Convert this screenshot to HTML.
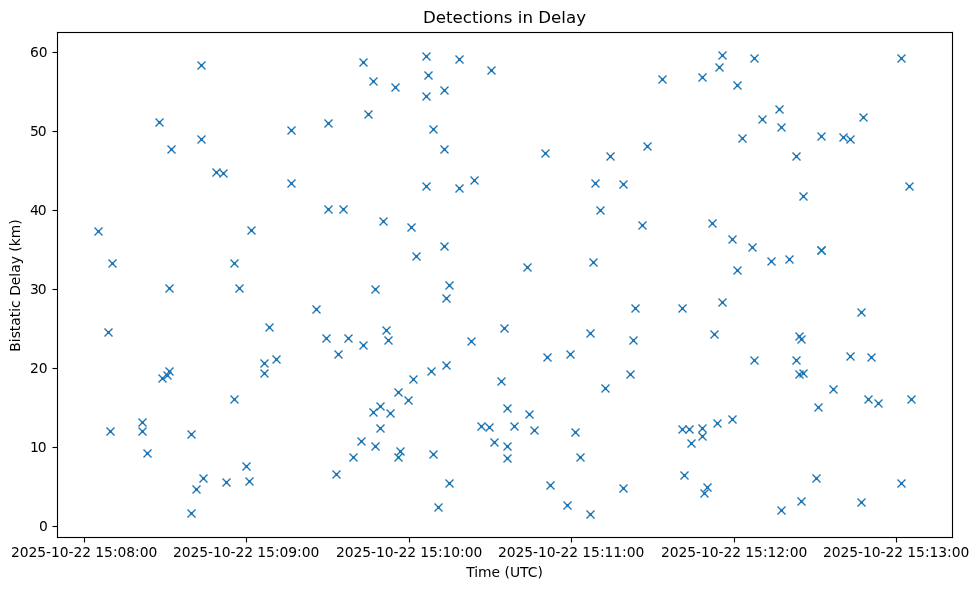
<!DOCTYPE html>
<html lang="en">
<head>
<meta charset="utf-8">
<title>Detections in Delay</title>
<style>
html,body{margin:0;padding:0;background:#fff;}
body{width:979px;height:590px;overflow:hidden;}
svg{display:block;will-change:transform;}
text{font-family:"DejaVu Sans","Liberation Sans",sans-serif;fill:#000;}
.t{font-size:13.8889px;}
.h{font-size:16.6667px;}
</style>
</head>
<body>
<svg width="979" height="590" viewBox="0 0 979 590">
<rect x="0" y="0" width="979" height="590" fill="#ffffff"/>
<g id="detections" fill="none" stroke="#1f77b4" stroke-linecap="butt">
<g stroke-width="1.3889">
<path d="M197.5 61.5l8 8m0 -8l-8 8"/>
<path d="M155.5 118.5l8 8m0 -8l-8 8"/>
<path d="M197.5 135.5l8 8m0 -8l-8 8"/>
<path d="M287.5 126.5l8 8m0 -8l-8 8"/>
<path d="M324.5 119.5l8 8m0 -8l-8 8"/>
<path d="M359.5 58.5l8 8m0 -8l-8 8"/>
<path d="M369.5 77.5l8 8m0 -8l-8 8"/>
<path d="M364.5 110.5l8 8m0 -8l-8 8"/>
<path d="M391.5 83.5l8 8m0 -8l-8 8"/>
<path d="M422.5 52.5l8 8m0 -8l-8 8"/>
<path d="M424.5 71.5l8 8m0 -8l-8 8"/>
<path d="M422.5 92.5l8 8m0 -8l-8 8"/>
<path d="M440.5 86.5l8 8m0 -8l-8 8"/>
<path d="M429.5 125.5l8 8m0 -8l-8 8"/>
<path d="M455.5 55.5l8 8m0 -8l-8 8"/>
<path d="M487.5 66.5l8 8m0 -8l-8 8"/>
<path d="M658.5 75.5l8 8m0 -8l-8 8"/>
<path d="M698.5 73.5l8 8m0 -8l-8 8"/>
<path d="M718.5 51.5l8 8m0 -8l-8 8"/>
<path d="M715.5 63.5l8 8m0 -8l-8 8"/>
<path d="M750.5 54.5l8 8m0 -8l-8 8"/>
<path d="M733.5 81.5l8 8m0 -8l-8 8"/>
<path d="M775.5 105.5l8 8m0 -8l-8 8"/>
<path d="M758.5 115.5l8 8m0 -8l-8 8"/>
<path d="M777.5 123.5l8 8m0 -8l-8 8"/>
<path d="M738.5 134.5l8 8m0 -8l-8 8"/>
<path d="M817.5 132.5l8 8m0 -8l-8 8"/>
<path d="M839.5 133.5l8 8m0 -8l-8 8"/>
<path d="M846.5 135.5l8 8m0 -8l-8 8"/>
<path d="M897.5 54.5l8 8m0 -8l-8 8"/>
<path d="M859.5 113.5l8 8m0 -8l-8 8"/>
<path d="M643.5 142.5l8 8m0 -8l-8 8"/>
<path d="M167.5 145.5l8 8m0 -8l-8 8"/>
<path d="M212.5 168.5l8 8m0 -8l-8 8"/>
<path d="M219.5 169.5l8 8m0 -8l-8 8"/>
<path d="M94.5 227.5l8 8m0 -8l-8 8"/>
<path d="M108.5 259.5l8 8m0 -8l-8 8"/>
<path d="M230.5 259.5l8 8m0 -8l-8 8"/>
<path d="M247.5 226.5l8 8m0 -8l-8 8"/>
<path d="M440.5 145.5l8 8m0 -8l-8 8"/>
<path d="M287.5 179.5l8 8m0 -8l-8 8"/>
<path d="M422.5 182.5l8 8m0 -8l-8 8"/>
<path d="M324.5 205.5l8 8m0 -8l-8 8"/>
<path d="M339.5 205.5l8 8m0 -8l-8 8"/>
<path d="M379.5 217.5l8 8m0 -8l-8 8"/>
<path d="M407.5 223.5l8 8m0 -8l-8 8"/>
<path d="M440.5 242.5l8 8m0 -8l-8 8"/>
<path d="M412.5 252.5l8 8m0 -8l-8 8"/>
<path d="M541.5 149.5l8 8m0 -8l-8 8"/>
<path d="M606.5 152.5l8 8m0 -8l-8 8"/>
<path d="M470.5 176.5l8 8m0 -8l-8 8"/>
<path d="M455.5 184.5l8 8m0 -8l-8 8"/>
<path d="M591.5 179.5l8 8m0 -8l-8 8"/>
<path d="M619.5 180.5l8 8m0 -8l-8 8"/>
<path d="M596.5 206.5l8 8m0 -8l-8 8"/>
<path d="M638.5 221.5l8 8m0 -8l-8 8"/>
<path d="M589.5 258.5l8 8m0 -8l-8 8"/>
<path d="M792.5 152.5l8 8m0 -8l-8 8"/>
<path d="M799.5 192.5l8 8m0 -8l-8 8"/>
<path d="M708.5 219.5l8 8m0 -8l-8 8"/>
<path d="M728.5 235.5l8 8m0 -8l-8 8"/>
<path d="M748.5 243.5l8 8m0 -8l-8 8"/>
<path d="M767.5 257.5l8 8m0 -8l-8 8"/>
<path d="M785.5 255.5l8 8m0 -8l-8 8"/>
<path d="M817.5 246.5l8 8m0 -8l-8 8"/>
<path d="M817.5 246.5l8 8m0 -8l-8 8"/>
<path d="M905.5 182.5l8 8m0 -8l-8 8"/>
<path d="M523.5 263.5l8 8m0 -8l-8 8"/>
<path d="M165.5 284.5l8 8m0 -8l-8 8"/>
<path d="M235.5 284.5l8 8m0 -8l-8 8"/>
<path d="M104.5 328.5l8 8m0 -8l-8 8"/>
<path d="M165.5 367.5l8 8m0 -8l-8 8"/>
<path d="M163.5 371.5l8 8m0 -8l-8 8"/>
<path d="M158.5 374.5l8 8m0 -8l-8 8"/>
<path d="M371.5 285.5l8 8m0 -8l-8 8"/>
<path d="M445.5 281.5l8 8m0 -8l-8 8"/>
<path d="M442.5 294.5l8 8m0 -8l-8 8"/>
<path d="M312.5 305.5l8 8m0 -8l-8 8"/>
<path d="M265.5 323.5l8 8m0 -8l-8 8"/>
<path d="M382.5 326.5l8 8m0 -8l-8 8"/>
<path d="M384.5 336.5l8 8m0 -8l-8 8"/>
<path d="M322.5 334.5l8 8m0 -8l-8 8"/>
<path d="M344.5 334.5l8 8m0 -8l-8 8"/>
<path d="M359.5 341.5l8 8m0 -8l-8 8"/>
<path d="M334.5 350.5l8 8m0 -8l-8 8"/>
<path d="M272.5 355.5l8 8m0 -8l-8 8"/>
<path d="M260.5 359.5l8 8m0 -8l-8 8"/>
<path d="M260.5 369.5l8 8m0 -8l-8 8"/>
<path d="M442.5 361.5l8 8m0 -8l-8 8"/>
<path d="M427.5 367.5l8 8m0 -8l-8 8"/>
<path d="M409.5 375.5l8 8m0 -8l-8 8"/>
<path d="M631.5 304.5l8 8m0 -8l-8 8"/>
<path d="M500.5 324.5l8 8m0 -8l-8 8"/>
<path d="M586.5 329.5l8 8m0 -8l-8 8"/>
<path d="M467.5 337.5l8 8m0 -8l-8 8"/>
<path d="M629.5 336.5l8 8m0 -8l-8 8"/>
<path d="M543.5 353.5l8 8m0 -8l-8 8"/>
<path d="M566.5 350.5l8 8m0 -8l-8 8"/>
<path d="M626.5 370.5l8 8m0 -8l-8 8"/>
<path d="M497.5 377.5l8 8m0 -8l-8 8"/>
<path d="M733.5 266.5l8 8m0 -8l-8 8"/>
<path d="M718.5 298.5l8 8m0 -8l-8 8"/>
<path d="M678.5 304.5l8 8m0 -8l-8 8"/>
<path d="M710.5 330.5l8 8m0 -8l-8 8"/>
<path d="M795.5 332.5l8 8m0 -8l-8 8"/>
<path d="M797.5 335.5l8 8m0 -8l-8 8"/>
<path d="M750.5 356.5l8 8m0 -8l-8 8"/>
<path d="M792.5 356.5l8 8m0 -8l-8 8"/>
<path d="M795.5 370.5l8 8m0 -8l-8 8"/>
<path d="M799.5 369.5l8 8m0 -8l-8 8"/>
<path d="M846.5 352.5l8 8m0 -8l-8 8"/>
<path d="M857.5 308.5l8 8m0 -8l-8 8"/>
<path d="M867.5 353.5l8 8m0 -8l-8 8"/>
<path d="M230.5 395.5l8 8m0 -8l-8 8"/>
<path d="M138.5 418.5l8 8m0 -8l-8 8"/>
<path d="M138.5 427.5l8 8m0 -8l-8 8"/>
<path d="M106.5 427.5l8 8m0 -8l-8 8"/>
<path d="M187.5 430.5l8 8m0 -8l-8 8"/>
<path d="M143.5 449.5l8 8m0 -8l-8 8"/>
<path d="M242.5 462.5l8 8m0 -8l-8 8"/>
<path d="M199.5 474.5l8 8m0 -8l-8 8"/>
<path d="M222.5 478.5l8 8m0 -8l-8 8"/>
<path d="M245.5 477.5l8 8m0 -8l-8 8"/>
<path d="M192.5 485.5l8 8m0 -8l-8 8"/>
<path d="M394.5 388.5l8 8m0 -8l-8 8"/>
<path d="M404.5 396.5l8 8m0 -8l-8 8"/>
<path d="M376.5 402.5l8 8m0 -8l-8 8"/>
<path d="M369.5 408.5l8 8m0 -8l-8 8"/>
<path d="M386.5 409.5l8 8m0 -8l-8 8"/>
<path d="M376.5 424.5l8 8m0 -8l-8 8"/>
<path d="M357.5 437.5l8 8m0 -8l-8 8"/>
<path d="M371.5 442.5l8 8m0 -8l-8 8"/>
<path d="M396.5 447.5l8 8m0 -8l-8 8"/>
<path d="M394.5 453.5l8 8m0 -8l-8 8"/>
<path d="M349.5 453.5l8 8m0 -8l-8 8"/>
<path d="M429.5 450.5l8 8m0 -8l-8 8"/>
<path d="M332.5 470.5l8 8m0 -8l-8 8"/>
<path d="M445.5 479.5l8 8m0 -8l-8 8"/>
<path d="M601.5 384.5l8 8m0 -8l-8 8"/>
<path d="M503.5 404.5l8 8m0 -8l-8 8"/>
<path d="M525.5 410.5l8 8m0 -8l-8 8"/>
<path d="M477.5 422.5l8 8m0 -8l-8 8"/>
<path d="M485.5 423.5l8 8m0 -8l-8 8"/>
<path d="M510.5 422.5l8 8m0 -8l-8 8"/>
<path d="M530.5 426.5l8 8m0 -8l-8 8"/>
<path d="M571.5 428.5l8 8m0 -8l-8 8"/>
<path d="M490.5 438.5l8 8m0 -8l-8 8"/>
<path d="M503.5 442.5l8 8m0 -8l-8 8"/>
<path d="M503.5 454.5l8 8m0 -8l-8 8"/>
<path d="M576.5 453.5l8 8m0 -8l-8 8"/>
<path d="M546.5 481.5l8 8m0 -8l-8 8"/>
<path d="M619.5 484.5l8 8m0 -8l-8 8"/>
<path d="M829.5 385.5l8 8m0 -8l-8 8"/>
<path d="M814.5 403.5l8 8m0 -8l-8 8"/>
<path d="M728.5 415.5l8 8m0 -8l-8 8"/>
<path d="M713.5 419.5l8 8m0 -8l-8 8"/>
<path d="M678.5 425.5l8 8m0 -8l-8 8"/>
<path d="M685.5 425.5l8 8m0 -8l-8 8"/>
<path d="M698.5 424.5l8 8m0 -8l-8 8"/>
<path d="M698.5 432.5l8 8m0 -8l-8 8"/>
<path d="M687.5 439.5l8 8m0 -8l-8 8"/>
<path d="M680.5 471.5l8 8m0 -8l-8 8"/>
<path d="M703.5 483.5l8 8m0 -8l-8 8"/>
<path d="M700.5 489.5l8 8m0 -8l-8 8"/>
<path d="M812.5 474.5l8 8m0 -8l-8 8"/>
<path d="M797.5 497.5l8 8m0 -8l-8 8"/>
<path d="M864.5 395.5l8 8m0 -8l-8 8"/>
<path d="M874.5 399.5l8 8m0 -8l-8 8"/>
<path d="M907.5 395.5l8 8m0 -8l-8 8"/>
<path d="M897.5 479.5l8 8m0 -8l-8 8"/>
<path d="M857.5 498.5l8 8m0 -8l-8 8"/>
<path d="M187.5 509.5l8 8m0 -8l-8 8"/>
<path d="M434.5 503.5l8 8m0 -8l-8 8"/>
<path d="M563.5 501.5l8 8m0 -8l-8 8"/>
<path d="M586.5 510.5l8 8m0 -8l-8 8"/>
<path d="M777.5 506.5l8 8m0 -8l-8 8"/>
</g>
<path d="M200 65.5h3M201.5 64v3M158 122.5h3M159.5 121v3M200 139.5h3M201.5 138v3M290 130.5h3M291.5 129v3M327 123.5h3M328.5 122v3M362 62.5h3M363.5 61v3M372 81.5h3M373.5 80v3M367 114.5h3M368.5 113v3M394 87.5h3M395.5 86v3M425 56.5h3M426.5 55v3M427 75.5h3M428.5 74v3M425 96.5h3M426.5 95v3M443 90.5h3M444.5 89v3M432 129.5h3M433.5 128v3M458 59.5h3M459.5 58v3M490 70.5h3M491.5 69v3M661 79.5h3M662.5 78v3M701 77.5h3M702.5 76v3M721 55.5h3M722.5 54v3M718 67.5h3M719.5 66v3M753 58.5h3M754.5 57v3M736 85.5h3M737.5 84v3M778 109.5h3M779.5 108v3M761 119.5h3M762.5 118v3M780 127.5h3M781.5 126v3M741 138.5h3M742.5 137v3M820 136.5h3M821.5 135v3M842 137.5h3M843.5 136v3M849 139.5h3M850.5 138v3M900 58.5h3M901.5 57v3M862 117.5h3M863.5 116v3M646 146.5h3M647.5 145v3M170 149.5h3M171.5 148v3M215 172.5h3M216.5 171v3M222 173.5h3M223.5 172v3M97 231.5h3M98.5 230v3M111 263.5h3M112.5 262v3M233 263.5h3M234.5 262v3M250 230.5h3M251.5 229v3M443 149.5h3M444.5 148v3M290 183.5h3M291.5 182v3M425 186.5h3M426.5 185v3M327 209.5h3M328.5 208v3M342 209.5h3M343.5 208v3M382 221.5h3M383.5 220v3M410 227.5h3M411.5 226v3M443 246.5h3M444.5 245v3M415 256.5h3M416.5 255v3M544 153.5h3M545.5 152v3M609 156.5h3M610.5 155v3M473 180.5h3M474.5 179v3M458 188.5h3M459.5 187v3M594 183.5h3M595.5 182v3M622 184.5h3M623.5 183v3M599 210.5h3M600.5 209v3M641 225.5h3M642.5 224v3M592 262.5h3M593.5 261v3M795 156.5h3M796.5 155v3M802 196.5h3M803.5 195v3M711 223.5h3M712.5 222v3M731 239.5h3M732.5 238v3M751 247.5h3M752.5 246v3M770 261.5h3M771.5 260v3M788 259.5h3M789.5 258v3M820 250.5h3M821.5 249v3M820 250.5h3M821.5 249v3M908 186.5h3M909.5 185v3M526 267.5h3M527.5 266v3M168 288.5h3M169.5 287v3M238 288.5h3M239.5 287v3M107 332.5h3M108.5 331v3M168 371.5h3M169.5 370v3M166 375.5h3M167.5 374v3M161 378.5h3M162.5 377v3M374 289.5h3M375.5 288v3M448 285.5h3M449.5 284v3M445 298.5h3M446.5 297v3M315 309.5h3M316.5 308v3M268 327.5h3M269.5 326v3M385 330.5h3M386.5 329v3M387 340.5h3M388.5 339v3M325 338.5h3M326.5 337v3M347 338.5h3M348.5 337v3M362 345.5h3M363.5 344v3M337 354.5h3M338.5 353v3M275 359.5h3M276.5 358v3M263 363.5h3M264.5 362v3M263 373.5h3M264.5 372v3M445 365.5h3M446.5 364v3M430 371.5h3M431.5 370v3M412 379.5h3M413.5 378v3M634 308.5h3M635.5 307v3M503 328.5h3M504.5 327v3M589 333.5h3M590.5 332v3M470 341.5h3M471.5 340v3M632 340.5h3M633.5 339v3M546 357.5h3M547.5 356v3M569 354.5h3M570.5 353v3M629 374.5h3M630.5 373v3M500 381.5h3M501.5 380v3M736 270.5h3M737.5 269v3M721 302.5h3M722.5 301v3M681 308.5h3M682.5 307v3M713 334.5h3M714.5 333v3M798 336.5h3M799.5 335v3M800 339.5h3M801.5 338v3M753 360.5h3M754.5 359v3M795 360.5h3M796.5 359v3M798 374.5h3M799.5 373v3M802 373.5h3M803.5 372v3M849 356.5h3M850.5 355v3M860 312.5h3M861.5 311v3M870 357.5h3M871.5 356v3M233 399.5h3M234.5 398v3M141 422.5h3M142.5 421v3M141 431.5h3M142.5 430v3M109 431.5h3M110.5 430v3M190 434.5h3M191.5 433v3M146 453.5h3M147.5 452v3M245 466.5h3M246.5 465v3M202 478.5h3M203.5 477v3M225 482.5h3M226.5 481v3M248 481.5h3M249.5 480v3M195 489.5h3M196.5 488v3M397 392.5h3M398.5 391v3M407 400.5h3M408.5 399v3M379 406.5h3M380.5 405v3M372 412.5h3M373.5 411v3M389 413.5h3M390.5 412v3M379 428.5h3M380.5 427v3M360 441.5h3M361.5 440v3M374 446.5h3M375.5 445v3M399 451.5h3M400.5 450v3M397 457.5h3M398.5 456v3M352 457.5h3M353.5 456v3M432 454.5h3M433.5 453v3M335 474.5h3M336.5 473v3M448 483.5h3M449.5 482v3M604 388.5h3M605.5 387v3M506 408.5h3M507.5 407v3M528 414.5h3M529.5 413v3M480 426.5h3M481.5 425v3M488 427.5h3M489.5 426v3M513 426.5h3M514.5 425v3M533 430.5h3M534.5 429v3M574 432.5h3M575.5 431v3M493 442.5h3M494.5 441v3M506 446.5h3M507.5 445v3M506 458.5h3M507.5 457v3M579 457.5h3M580.5 456v3M549 485.5h3M550.5 484v3M622 488.5h3M623.5 487v3M832 389.5h3M833.5 388v3M817 407.5h3M818.5 406v3M731 419.5h3M732.5 418v3M716 423.5h3M717.5 422v3M681 429.5h3M682.5 428v3M688 429.5h3M689.5 428v3M701 428.5h3M702.5 427v3M701 436.5h3M702.5 435v3M690 443.5h3M691.5 442v3M683 475.5h3M684.5 474v3M706 487.5h3M707.5 486v3M703 493.5h3M704.5 492v3M815 478.5h3M816.5 477v3M800 501.5h3M801.5 500v3M867 399.5h3M868.5 398v3M877 403.5h3M878.5 402v3M910 399.5h3M911.5 398v3M900 483.5h3M901.5 482v3M860 502.5h3M861.5 501v3M190 513.5h3M191.5 512v3M437 507.5h3M438.5 506v3M566 505.5h3M567.5 504v3M589 514.5h3M590.5 513v3M780 510.5h3M781.5 509v3" stroke-width="1"/>
</g>
<g id="ticks" fill="#000">
<rect x="83" y="537" width="1" height="1" fill-opacity="0.028"/><rect x="83" y="538" width="1" height="4" fill-opacity="0.056"/><rect x="83" y="542" width="1" height="1" fill-opacity="0.028"/><rect x="84" y="537" width="1" height="1" fill-opacity="0.500"/><rect x="84" y="538" width="1" height="4"/><rect x="84" y="542" width="1" height="1" fill-opacity="0.500"/><rect x="85" y="537" width="1" height="1" fill-opacity="0.028"/><rect x="85" y="538" width="1" height="4" fill-opacity="0.056"/><rect x="85" y="542" width="1" height="1" fill-opacity="0.028"/>
<rect x="245" y="537" width="1" height="1" fill-opacity="0.028"/><rect x="245" y="538" width="1" height="4" fill-opacity="0.056"/><rect x="245" y="542" width="1" height="1" fill-opacity="0.028"/><rect x="246" y="537" width="1" height="1" fill-opacity="0.500"/><rect x="246" y="538" width="1" height="4"/><rect x="246" y="542" width="1" height="1" fill-opacity="0.500"/><rect x="247" y="537" width="1" height="1" fill-opacity="0.028"/><rect x="247" y="538" width="1" height="4" fill-opacity="0.056"/><rect x="247" y="542" width="1" height="1" fill-opacity="0.028"/>
<rect x="408" y="537" width="1" height="1" fill-opacity="0.028"/><rect x="408" y="538" width="1" height="4" fill-opacity="0.056"/><rect x="408" y="542" width="1" height="1" fill-opacity="0.028"/><rect x="409" y="537" width="1" height="1" fill-opacity="0.500"/><rect x="409" y="538" width="1" height="4"/><rect x="409" y="542" width="1" height="1" fill-opacity="0.500"/><rect x="410" y="537" width="1" height="1" fill-opacity="0.028"/><rect x="410" y="538" width="1" height="4" fill-opacity="0.056"/><rect x="410" y="542" width="1" height="1" fill-opacity="0.028"/>
<rect x="570" y="537" width="1" height="1" fill-opacity="0.028"/><rect x="570" y="538" width="1" height="4" fill-opacity="0.056"/><rect x="570" y="542" width="1" height="1" fill-opacity="0.028"/><rect x="571" y="537" width="1" height="1" fill-opacity="0.500"/><rect x="571" y="538" width="1" height="4"/><rect x="571" y="542" width="1" height="1" fill-opacity="0.500"/><rect x="572" y="537" width="1" height="1" fill-opacity="0.028"/><rect x="572" y="538" width="1" height="4" fill-opacity="0.056"/><rect x="572" y="542" width="1" height="1" fill-opacity="0.028"/>
<rect x="733" y="537" width="1" height="1" fill-opacity="0.028"/><rect x="733" y="538" width="1" height="4" fill-opacity="0.056"/><rect x="733" y="542" width="1" height="1" fill-opacity="0.028"/><rect x="734" y="537" width="1" height="1" fill-opacity="0.500"/><rect x="734" y="538" width="1" height="4"/><rect x="734" y="542" width="1" height="1" fill-opacity="0.500"/><rect x="735" y="537" width="1" height="1" fill-opacity="0.028"/><rect x="735" y="538" width="1" height="4" fill-opacity="0.056"/><rect x="735" y="542" width="1" height="1" fill-opacity="0.028"/>
<rect x="895" y="537" width="1" height="1" fill-opacity="0.028"/><rect x="895" y="538" width="1" height="4" fill-opacity="0.056"/><rect x="895" y="542" width="1" height="1" fill-opacity="0.028"/><rect x="896" y="537" width="1" height="1" fill-opacity="0.500"/><rect x="896" y="538" width="1" height="4"/><rect x="896" y="542" width="1" height="1" fill-opacity="0.500"/><rect x="897" y="537" width="1" height="1" fill-opacity="0.028"/><rect x="897" y="538" width="1" height="4" fill-opacity="0.056"/><rect x="897" y="542" width="1" height="1" fill-opacity="0.028"/>
<rect x="52" y="525" width="1" height="1" fill-opacity="0.028"/><rect x="52" y="526" width="1" height="1" fill-opacity="0.500"/><rect x="52" y="527" width="1" height="1" fill-opacity="0.028"/><rect x="53" y="525" width="4" height="1" fill-opacity="0.056"/><rect x="53" y="526" width="4" height="1"/><rect x="53" y="527" width="4" height="1" fill-opacity="0.056"/><rect x="57" y="525" width="1" height="1" fill-opacity="0.028"/><rect x="57" y="526" width="1" height="1" fill-opacity="0.500"/><rect x="57" y="527" width="1" height="1" fill-opacity="0.028"/>
<rect x="52" y="446" width="1" height="1" fill-opacity="0.028"/><rect x="52" y="447" width="1" height="1" fill-opacity="0.500"/><rect x="52" y="448" width="1" height="1" fill-opacity="0.028"/><rect x="53" y="446" width="4" height="1" fill-opacity="0.056"/><rect x="53" y="447" width="4" height="1"/><rect x="53" y="448" width="4" height="1" fill-opacity="0.056"/><rect x="57" y="446" width="1" height="1" fill-opacity="0.028"/><rect x="57" y="447" width="1" height="1" fill-opacity="0.500"/><rect x="57" y="448" width="1" height="1" fill-opacity="0.028"/>
<rect x="52" y="367" width="1" height="1" fill-opacity="0.028"/><rect x="52" y="368" width="1" height="1" fill-opacity="0.500"/><rect x="52" y="369" width="1" height="1" fill-opacity="0.028"/><rect x="53" y="367" width="4" height="1" fill-opacity="0.056"/><rect x="53" y="368" width="4" height="1"/><rect x="53" y="369" width="4" height="1" fill-opacity="0.056"/><rect x="57" y="367" width="1" height="1" fill-opacity="0.028"/><rect x="57" y="368" width="1" height="1" fill-opacity="0.500"/><rect x="57" y="369" width="1" height="1" fill-opacity="0.028"/>
<rect x="52" y="288" width="1" height="1" fill-opacity="0.028"/><rect x="52" y="289" width="1" height="1" fill-opacity="0.500"/><rect x="52" y="290" width="1" height="1" fill-opacity="0.028"/><rect x="53" y="288" width="4" height="1" fill-opacity="0.056"/><rect x="53" y="289" width="4" height="1"/><rect x="53" y="290" width="4" height="1" fill-opacity="0.056"/><rect x="57" y="288" width="1" height="1" fill-opacity="0.028"/><rect x="57" y="289" width="1" height="1" fill-opacity="0.500"/><rect x="57" y="290" width="1" height="1" fill-opacity="0.028"/>
<rect x="52" y="209" width="1" height="1" fill-opacity="0.028"/><rect x="52" y="210" width="1" height="1" fill-opacity="0.500"/><rect x="52" y="211" width="1" height="1" fill-opacity="0.028"/><rect x="53" y="209" width="4" height="1" fill-opacity="0.056"/><rect x="53" y="210" width="4" height="1"/><rect x="53" y="211" width="4" height="1" fill-opacity="0.056"/><rect x="57" y="209" width="1" height="1" fill-opacity="0.028"/><rect x="57" y="210" width="1" height="1" fill-opacity="0.500"/><rect x="57" y="211" width="1" height="1" fill-opacity="0.028"/>
<rect x="52" y="130" width="1" height="1" fill-opacity="0.028"/><rect x="52" y="131" width="1" height="1" fill-opacity="0.500"/><rect x="52" y="132" width="1" height="1" fill-opacity="0.028"/><rect x="53" y="130" width="4" height="1" fill-opacity="0.056"/><rect x="53" y="131" width="4" height="1"/><rect x="53" y="132" width="4" height="1" fill-opacity="0.056"/><rect x="57" y="130" width="1" height="1" fill-opacity="0.028"/><rect x="57" y="131" width="1" height="1" fill-opacity="0.500"/><rect x="57" y="132" width="1" height="1" fill-opacity="0.028"/>
<rect x="52" y="51" width="1" height="1" fill-opacity="0.028"/><rect x="52" y="52" width="1" height="1" fill-opacity="0.500"/><rect x="52" y="53" width="1" height="1" fill-opacity="0.028"/><rect x="53" y="51" width="4" height="1" fill-opacity="0.056"/><rect x="53" y="52" width="4" height="1"/><rect x="53" y="53" width="4" height="1" fill-opacity="0.056"/><rect x="57" y="51" width="1" height="1" fill-opacity="0.028"/><rect x="57" y="52" width="1" height="1" fill-opacity="0.500"/><rect x="57" y="53" width="1" height="1" fill-opacity="0.028"/>
</g>
<g id="spines" fill="#000">
<rect x="56" y="32" width="1" height="506" fill-opacity="0.056"/><rect x="57" y="31" width="1" height="1" fill-opacity="0.056"/><rect x="57" y="32" width="1" height="506"/><rect x="57" y="538" width="1" height="1" fill-opacity="0.056"/><rect x="58" y="32" width="1" height="506" fill-opacity="0.056"/>
<rect x="951" y="32" width="1" height="506" fill-opacity="0.056"/><rect x="952" y="31" width="1" height="1" fill-opacity="0.056"/><rect x="952" y="32" width="1" height="506"/><rect x="952" y="538" width="1" height="1" fill-opacity="0.056"/><rect x="953" y="32" width="1" height="506" fill-opacity="0.056"/>
<rect x="56" y="537" width="1" height="1" fill-opacity="0.056"/><rect x="57" y="536" width="896" height="1" fill-opacity="0.056"/><rect x="57" y="537" width="896" height="1"/><rect x="57" y="538" width="896" height="1" fill-opacity="0.056"/><rect x="953" y="537" width="1" height="1" fill-opacity="0.056"/>
<rect x="56" y="32" width="1" height="1" fill-opacity="0.056"/><rect x="57" y="31" width="896" height="1" fill-opacity="0.056"/><rect x="57" y="32" width="896" height="1"/><rect x="57" y="33" width="896" height="1" fill-opacity="0.056"/><rect x="953" y="32" width="1" height="1" fill-opacity="0.056"/>
</g>
<g class="t" text-anchor="middle">
<text x="84.1" y="557" textLength="146.35" lengthAdjust="spacing">2025-10-22 15:08:00</text>
<text x="246.1" y="557" textLength="146.35" lengthAdjust="spacing">2025-10-22 15:09:00</text>
<text x="409.1" y="557" textLength="146.35" lengthAdjust="spacing">2025-10-22 15:10:00</text>
<text x="571.1" y="557" textLength="146.35" lengthAdjust="spacing">2025-10-22 15:11:00</text>
<text x="734.1" y="557" textLength="146.35" lengthAdjust="spacing">2025-10-22 15:12:00</text>
<text x="896.1" y="557" textLength="146.35" lengthAdjust="spacing">2025-10-22 15:13:00</text>
</g>
<g class="t" id="yticks">
<text x="38.97" y="531">0</text>
<text x="29.89 37.72" y="452">10</text>
<text x="29.89 38.72" y="373">20</text>
<text x="29.89 37.72" y="294">30</text>
<text x="29.89 37.72" y="215">40</text>
<text x="29.89 37.72" y="136">50</text>
<text x="29.89 38.72" y="57">60</text>
</g>
<text class="h" text-anchor="middle" x="504.5" y="22.8">Detections in Delay</text>
<text class="t" text-anchor="middle" x="504.5" y="577">Time (UTC)</text>
<text class="t" text-anchor="middle" transform="translate(20 285.5) rotate(-90)">Bistatic Delay (km)</text>
</svg>
</body>
</html>
